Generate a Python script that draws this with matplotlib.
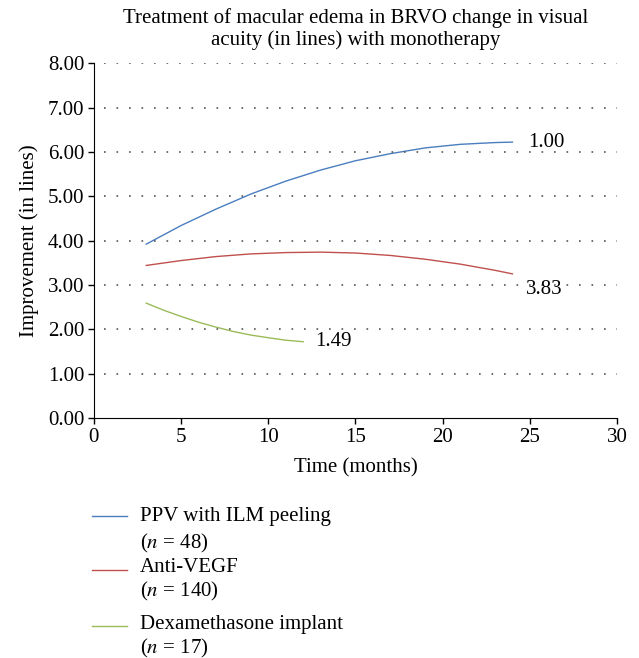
import matplotlib.pyplot as plt
from matplotlib.lines import Line2D

plt.rcParams['font.family'] = ['Liberation Serif', 'DejaVu Serif']
plt.rcParams['mathtext.fontset'] = 'stix'

ppv_x = [3, 5, 7, 9, 11, 13, 15, 17, 19, 21, 23, 24]
ppv_y = [3.92, 4.34, 4.71, 5.05, 5.34, 5.59, 5.80, 5.96, 6.09, 6.17, 6.21, 6.22]
vegf_x = [3, 5, 7, 9, 11, 13, 15, 17, 19, 21, 23, 24]
vegf_y = [3.44, 3.55, 3.64, 3.70, 3.73, 3.74, 3.72, 3.665, 3.58, 3.47, 3.33, 3.25]
dex_x = [3, 4, 5, 6, 7, 8, 9, 10, 11, 12]
dex_y = [2.59, 2.43, 2.29, 2.16, 2.05, 1.95, 1.87, 1.81, 1.755, 1.72]

names = ['PPV with ILM peeling', 'Anti-VEGF', 'Dexamethasone implant']
counts = [48, 140, 17]
end_labels = ['1.00', '3.83', '1.49']
colors = ['#4a7ebf', '#c0504d', '#9bbb59']

FS = 15
fig = plt.figure(figsize=(6.39, 6.58), dpi=100)
ax = fig.add_axes([0.147, 0.3647, 0.8186, 0.5393])

series = [(ppv_x, ppv_y), (vegf_x, vegf_y), (dex_x, dex_y)]
offsets = [(11, 0), (10, -11), (9, 0)]
for (xs, ys), c, lab, off in zip(series, colors, end_labels, offsets):
    ax.plot(xs, ys, color=c, lw=1.0)
    ax.annotate(lab, (xs[-1], ys[-1]), xytext=off, textcoords='offset points',
                ha='left', va='center', fontsize=FS)

ax.set_xlim(0, 30)
ax.set_ylim(0, 8)
ax.set_xticks(range(0, 31, 5))
ax.set_yticks(range(0, 9))
ax.set_yticklabels(['%.2f' % v for v in range(0, 9)])
for v in range(1, 9):
    ax.axhline(v, xmin=0.02, color='#555555', lw=1.2, ls=(0, (1, 6.5)))
ax.spines['top'].set_visible(False)
ax.spines['right'].set_visible(False)
ax.tick_params(labelsize=FS, length=4, width=1, direction='out', pad=3)
ax.set_xlabel('Time (months)', fontsize=FS, labelpad=8)
ax.set_ylabel('Improvement (in lines)', fontsize=FS, labelpad=6)
ax.set_title('Treatment of macular edema in BRVO change in visual\nacuity (in lines) with monotherapy',
             fontsize=FS, pad=13, linespacing=1.15)

# legend drawn below the plot
leg_line_y = [516, 570, 626]
leg_text_y = [516, 568, 625]
leg_n_y = [543, 591, 648]
H = 658.0
for c, name, n, ly, ty, ny in zip(colors, names, counts, leg_line_y, leg_text_y, leg_n_y):
    fig.add_artist(Line2D([92 / 639, 127 / 639], [1 - ly / H, 1 - ly / H], color=c, lw=1.0))
    fig.text(140 / 639, 1 - ty / H, name, fontsize=FS, va='center', ha='left')
    fig.text(140 / 639, 1 - ny / H, '($n$ = %d)' % n, fontsize=FS, va='center', ha='left')

fig.savefig('out.png', dpi=100)
